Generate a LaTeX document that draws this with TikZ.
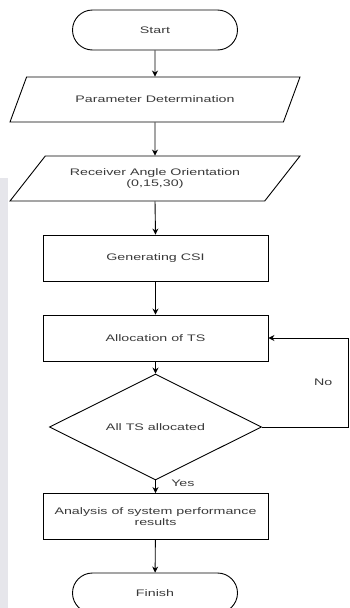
\documentclass[tikz,border=0pt]{standalone}
\usepackage{fontspec}
\setmainfont{Liberation Sans}[FakeStretch=1.5]
\usetikzlibrary{arrows.meta,positioning,shapes.geometric}

\definecolor{txtgray}{HTML}{3A3A3A}
\definecolor{stripgray}{HTML}{E6E6EB}

\begin{document}
\begin{tikzpicture}[
  x=1pt, y=-1pt,
  >=Stealth,
  arr/.style={->, line width=0.9pt, >={Stealth[length=6pt,width=6pt]}},
  base/.style={draw, line width=0.9pt, text=txtgray, align=center,
    font=\fontsize{9.5}{10.5}\selectfont, inner sep=2pt},
  terminal/.style={base, minimum width=165pt, minimum height=40pt, rounded corners=20pt},
  iobox/.style={base, trapezium, trapezium left angle=33.5, trapezium right angle=146.5,
    trapezium stretches body, minimum width=290pt, minimum height=45pt},
  procbox/.style={base, minimum width=225pt, minimum height=46pt},
  decide/.style={base, diamond, minimum width=212pt, minimum height=80pt, inner sep=0pt},
  lbl/.style={text=txtgray, font=\fontsize{9.5}{10.5}\selectfont}
]
  \useasboundingbox (0,0) rectangle (350,608);
  \clip (0,0) rectangle (350,608);
  \fill[stripgray] (0,178) rectangle (8,608);

  % ── Flow nodes ──
  \node[terminal] (start)    at (155,30)    {Start};
  \node[iobox]    (param)    at (155,99.5)  {Parameter Determination};
  \node[iobox]    (angle)    at (155,178.5) {Receiver Angle Orientation\\(0,15,30)};
  \node[procbox]  (csi)      at (155.5,258) {Generating CSI};
  \node[procbox]  (alloc)    at (155.5,338) {Allocation of TS};
  \node[decide]   (check)    at (155.5,427) {All TS allocated};
  \node[procbox]  (analysis) at (155.5,516.5) {Analysis of system performance\\results};
  \node[terminal] (finish)   at (155,593)   {Finish};

  % ── Connectors ──
  \draw[arr] (start) -- (param);
  \draw[arr] (param) -- (angle);
  \draw[arr] (angle.south) -- (csi.north);
  \draw[arr] (csi) -- (alloc);
  \draw[arr] (alloc) -- (check);
  \draw[arr] (check.south) -- node[lbl, pos=0.25, right=12pt] {Yes} (analysis.north);
  \draw[arr] (analysis) -- (finish);

  % No loop
  \coordinate (loopc) at (348,427);
  \draw[arr] (check.east) -- (loopc) |- node[lbl, pos=0.25, left=12pt] {No} (alloc.east);
\end{tikzpicture}
\end{document}
